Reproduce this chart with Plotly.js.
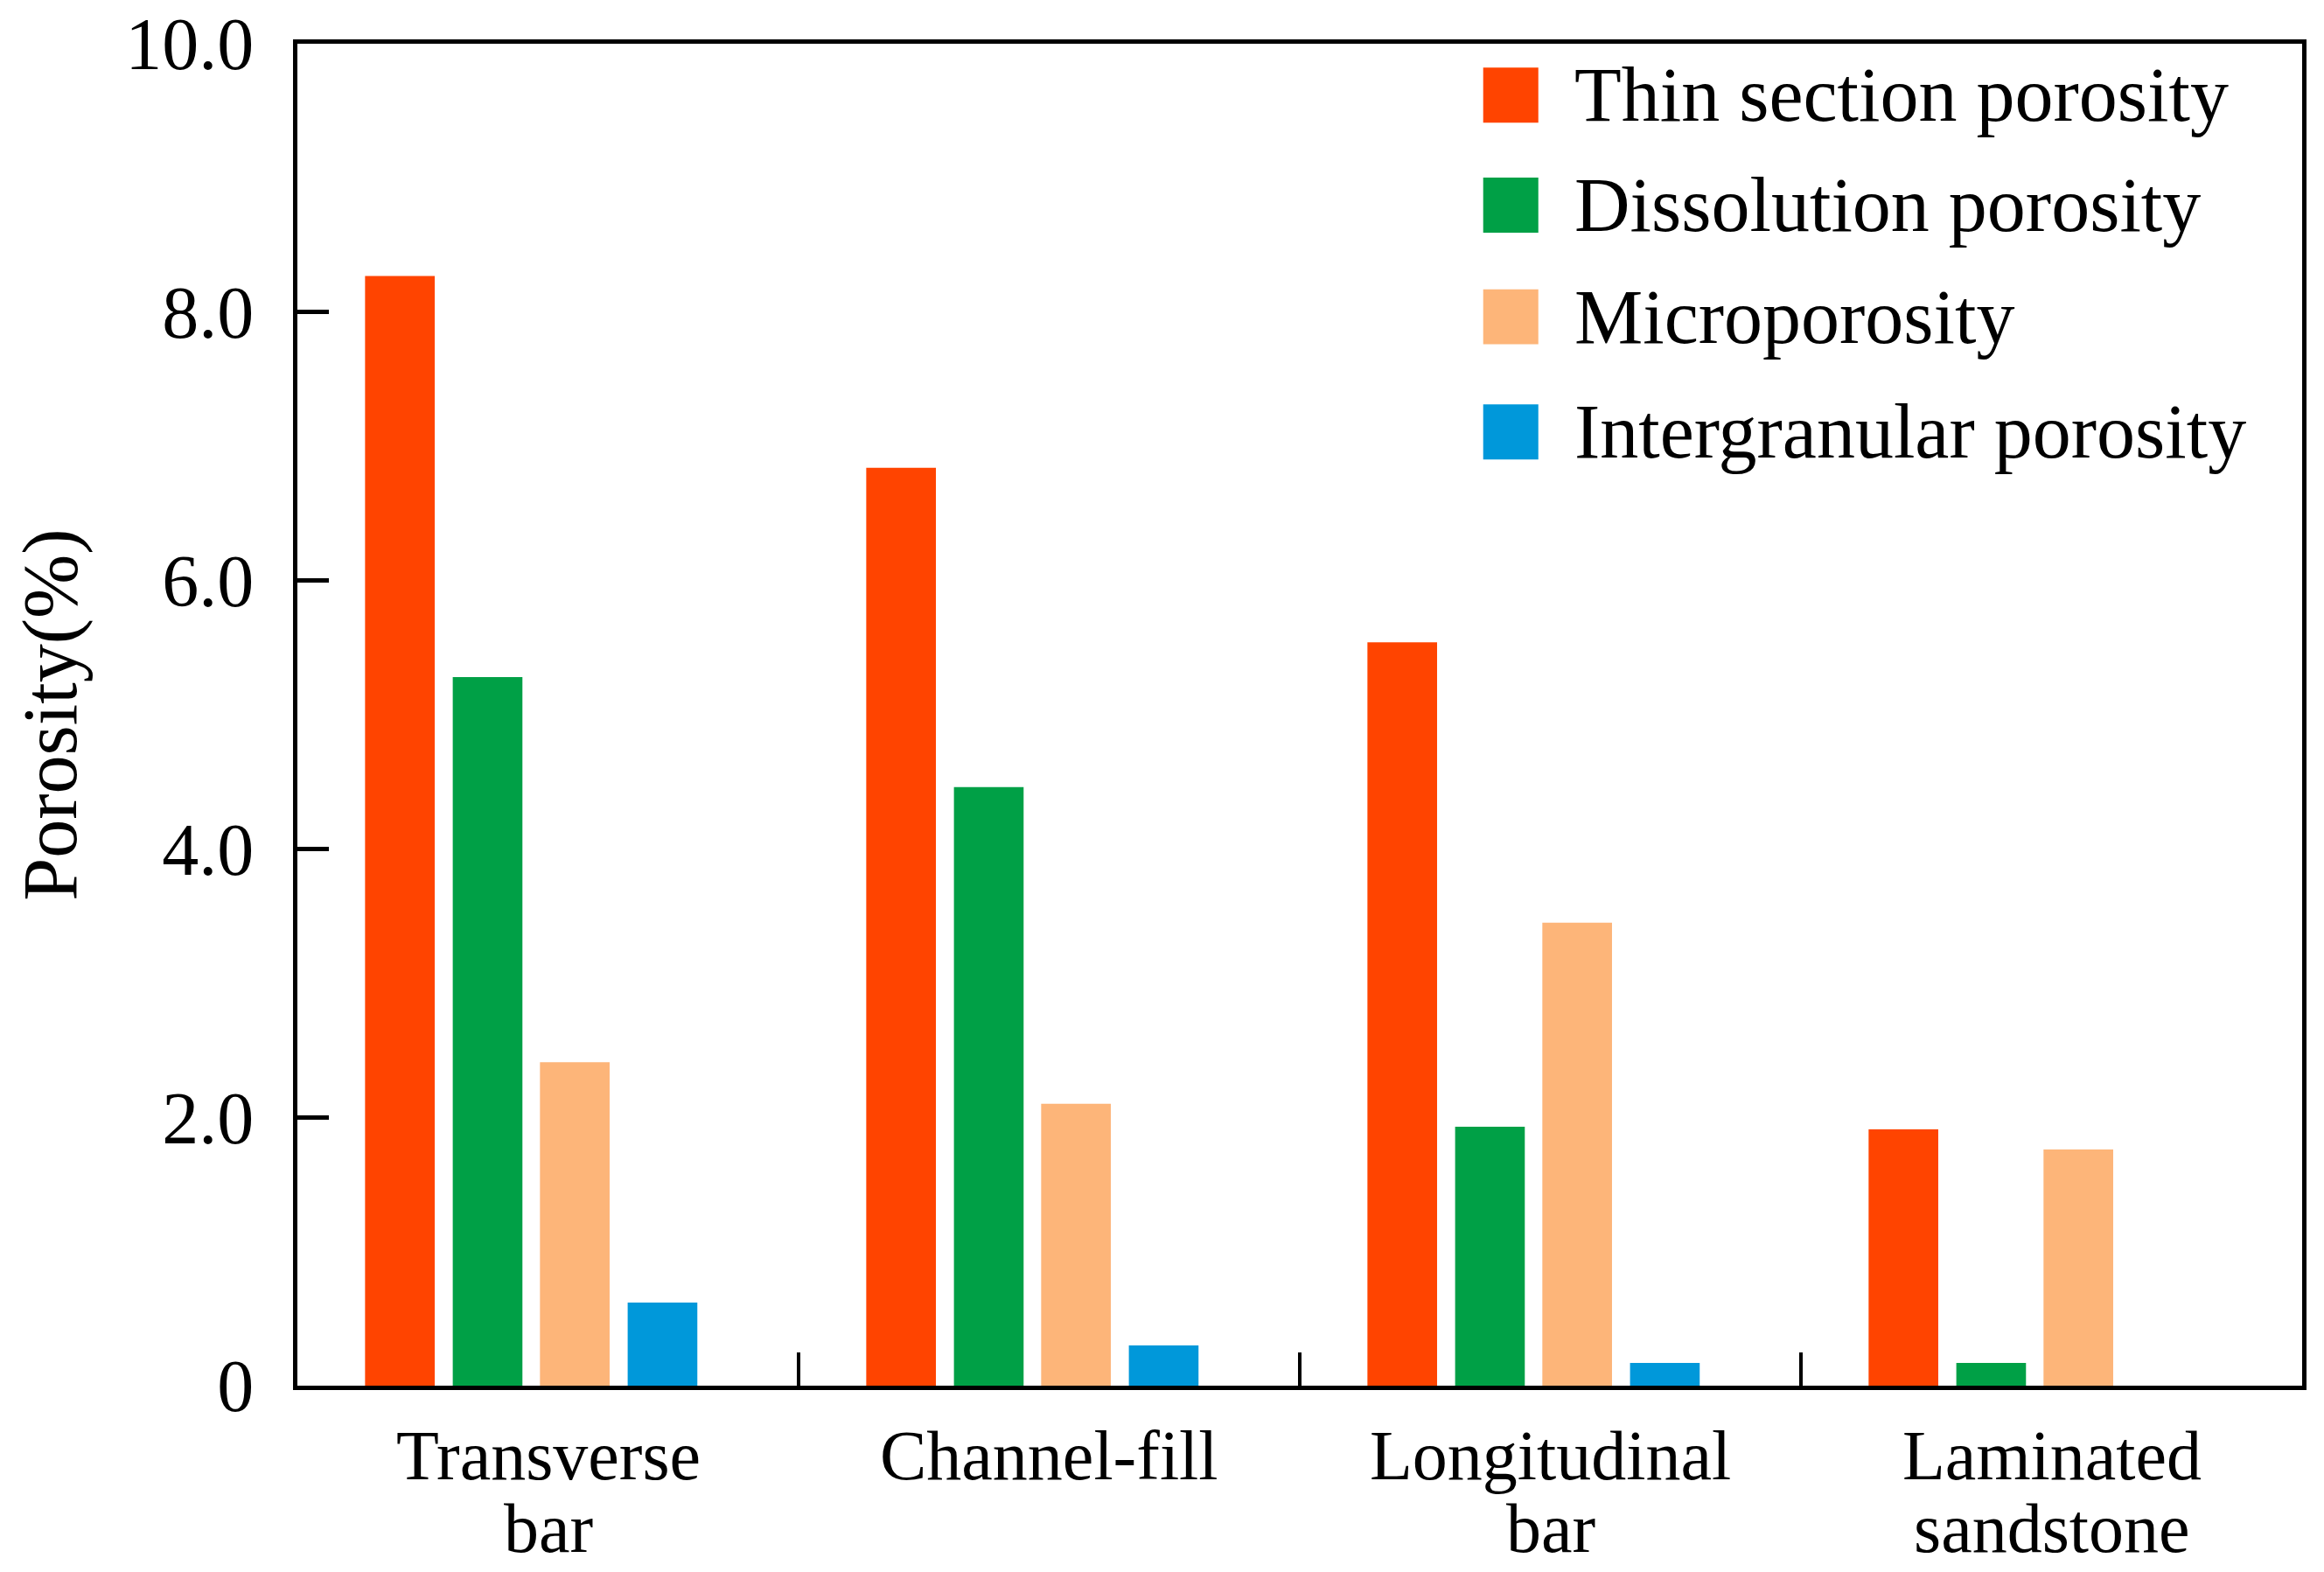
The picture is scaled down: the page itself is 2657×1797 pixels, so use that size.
<!DOCTYPE html>
<html>
<head>
<meta charset="utf-8">
<script src="https://cdn.plot.ly/plotly-3.0.1.min.js"></script>
<style>html,body{margin:0;padding:0;background:#fff;}</style>
</head>
<body>
<div id="chart" style="width:2657px;height:1797px;"></div>
<script>
// ---- data ----
const categories = ["Transverse bar", "Channel-fill", "Longitudinal bar", "Laminated sandstone"];
const labelLine1 = ["Transverse", "Channel-fill", "Longitudinal", "Laminated"];
const labelLine2 = ["bar", "", "bar", "sandstone"];
const seriesNames = ["Thin section porosity", "Dissolution porosity", "Microporosity", "Intergranular porosity"];
const thinSection = [8.27, 6.84, 5.54, 1.91];
const dissolution = [5.28, 4.46, 1.93, 0.17];
const microporosity = [2.41, 2.10, 3.45, 1.76];
const intergranular = [0.62, 0.30, 0.17, 0];
const yTickVals = [0, 2, 4, 6, 8, 10];
const yTickText = ["0", "2.0", "4.0", "6.0", "8.0", "10.0"];

// ---- styles ----
const colors = ["#FF4400", "#00A046", "#FDB579", "#0098DA"];
const offsets = [-0.365, -0.19, -0.016, 0.159];
const barWidth = 0.139;
const FONT = "Liberation Serif, Times New Roman, serif";
const FS = 88;
const XFS = 80;

const seriesValues = [thinSection, dissolution, microporosity, intergranular];
const traces = seriesValues.map((vals, i) => ({
  type: "bar",
  name: seriesNames[i],
  x: categories,
  y: vals,
  width: barWidth,
  offset: offsets[i],
  marker: {color: colors[i], line: {width: 0}},
  showlegend: false
}));

const annotations = [];
categories.forEach((c, i) => {
  annotations.push({xref: "x", yref: "paper", x: c, y: 0, yshift: -80, text: labelLine1[i],
    showarrow: false, xanchor: "center", yanchor: "middle", font: {family: FONT, size: XFS, color: "#000"}});
  if (labelLine2[i]) {
    annotations.push({xref: "x", yref: "paper", x: c, y: 0, yshift: -163, text: labelLine2[i],
      showarrow: false, xanchor: "center", yanchor: "middle", font: {family: FONT, size: XFS, color: "#000"}});
  }
});

// manual legend (large swatches)
const legendRowsY = [0.9617, 0.8797, 0.7965, 0.7107];
const shapes = [];
seriesNames.forEach((n, i) => {
  shapes.push({type: "rect", xref: "paper", yref: "paper", x0: 0.5915, x1: 0.619,
    y0: legendRowsY[i] - 0.0205, y1: legendRowsY[i] + 0.0205, fillcolor: colors[i], line: {width: 0}});
  annotations.push({xref: "paper", yref: "paper", x: 0.636, y: legendRowsY[i], text: n,
    showarrow: false, xanchor: "left", yanchor: "middle", font: {family: FONT, size: FS, color: "#000"}});
});

const layout = {
  width: 2657, height: 1797,
  margin: {l: 340, r: 25, t: 50, b: 213},
  paper_bgcolor: "#ffffff", plot_bgcolor: "#ffffff",
  font: {family: FONT, size: FS, color: "#000"},
  barmode: "group",
  showlegend: false,
  xaxis: {
    type: "category",
    showticklabels: false,
    ticks: "inside", tickson: "boundaries", ticklen: 38, tickwidth: 4, tickcolor: "#000",
    showline: true, linecolor: "#000", linewidth: 5, mirror: true,
    showgrid: false, zeroline: false, fixedrange: true
  },
  yaxis: {
    range: [0, 10],
    tickvals: yTickVals, ticktext: yTickText,
    ticks: "inside", ticklen: 36, tickwidth: 5, tickcolor: "#000",
    ticklabelstandoff: 28,
    ticklabeloverflow: "allow",
    tickfont: {family: FONT, size: 84, color: "#000"},
    showline: true, linecolor: "#000", linewidth: 5, mirror: true,
    showgrid: false, zeroline: false,
    title: {text: "Porosity(%)", font: {family: FONT, size: FS, color: "#000"}, standoff: 28}
  },
  shapes: shapes,
  annotations: annotations
};

Plotly.newPlot("chart", traces, layout, {displayModeBar: false, staticPlot: true});
</script>
</body>
</html>
